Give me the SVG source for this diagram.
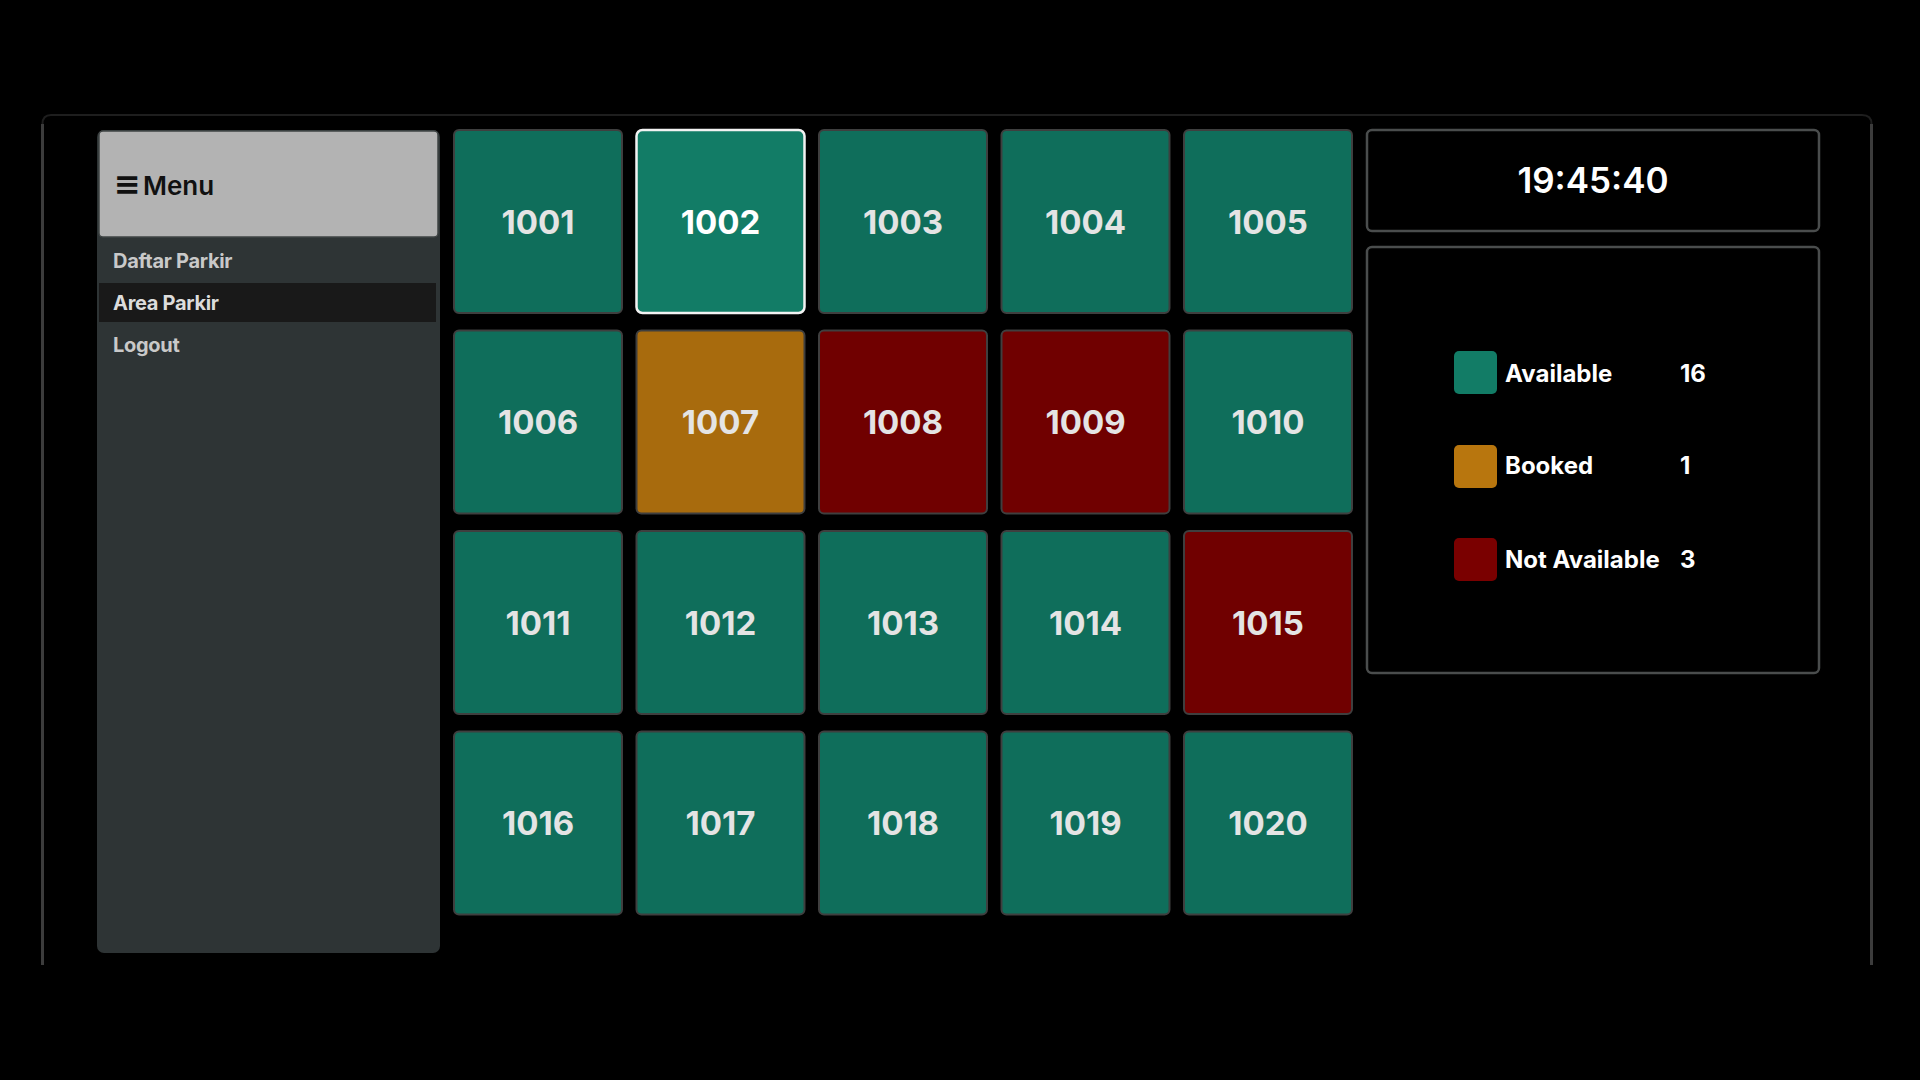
<svg xmlns="http://www.w3.org/2000/svg" width="1920" height="1080" viewBox="0 0 1920 1080">
<style>
.tile{stroke:#3f3f3f;stroke-width:2}
.av{fill:#0f6e5b}
.bk{fill:#a86b0d}
.na{fill:#700000}
.sel{fill:#127c66;stroke:#f2f2f2;stroke-width:2.5}
.tt{font-family:Inter,"Liberation Sans",sans-serif;font-size:33px;font-weight:700;fill:#e4e4e4;text-anchor:middle}
.side{font-family:Inter,"Liberation Sans",sans-serif;font-size:20px;font-weight:700;fill:#c9c9c9;letter-spacing:-0.3px}
.lg{font-family:Inter,"Liberation Sans",sans-serif;font-size:24px;font-weight:700;fill:#ffffff}
.box{fill:#000;stroke:#4a4d4d;stroke-width:2.5}
</style>
<rect x="0" y="0" width="1920" height="1080" fill="#000"/>
<g id="frame">
<path d="M42.5 965 V124 Q42.5 115 51 115 H1862 Q1871.5 115 1871.5 124 V965" fill="#000" stroke="#1e1e1e" stroke-width="2"/>
<path d="M42.5 965 V124" stroke="#3c3c3c" stroke-width="3" fill="none"/>
<path d="M1871.5 965 V124" stroke="#3c3c3c" stroke-width="3" fill="none"/>
</g>
<g id="sidebar">
<rect x="97" y="130" width="343" height="823" rx="7" fill="#2e3435"/>
<rect x="99" y="131" width="339" height="106" rx="4" fill="#b3b3b3" stroke="#3f4444" stroke-width="1.5"/>
<text x="114" y="195" font-family="Inter,'DejaVu Sans',sans-serif" font-size="32" font-weight="700" fill="#111">≡</text>
<text x="143" y="195" font-family="Inter,'Liberation Sans',sans-serif" font-size="26" font-weight="600" fill="#111">Menu</text>
<text class="side" x="113" y="268">Daftar Parkir</text>
<rect x="99" y="283" width="337" height="39" fill="#191919"/>
<text class="side" x="113" y="310" style="fill:#dcdcdc">Area Parkir</text>
<text class="side" x="113" y="352">Logout</text>
</g>
<g id="slots">
<g id="slot-1001"><rect class="tile av" x="454" y="130" width="168" height="183" rx="5"/><text class="tt" x="538" y="233.5">1001</text></g>
<g id="slot-1002"><rect class="sel" x="636.5" y="130" width="168" height="183" rx="6"/><text class="tt" x="720.5" y="233.5" style="fill:#fff">1002</text></g>
<g id="slot-1003"><rect class="tile av" x="819" y="130" width="168" height="183" rx="5"/><text class="tt" x="903" y="233.5">1003</text></g>
<g id="slot-1004"><rect class="tile av" x="1001.5" y="130" width="168" height="183" rx="5"/><text class="tt" x="1085.5" y="233.5">1004</text></g>
<g id="slot-1005"><rect class="tile av" x="1184" y="130" width="168" height="183" rx="5"/><text class="tt" x="1268" y="233.5">1005</text></g>

<g id="slot-1006"><rect class="tile av" x="454" y="330.5" width="168" height="183" rx="5"/><text class="tt" x="538" y="434">1006</text></g>
<g id="slot-1007"><rect class="tile bk" x="636.5" y="330.5" width="168" height="183" rx="5"/><text class="tt" x="720.5" y="434">1007</text></g>
<g id="slot-1008"><rect class="tile na" x="819" y="330.5" width="168" height="183" rx="5"/><text class="tt" x="903" y="434">1008</text></g>
<g id="slot-1009"><rect class="tile na" x="1001.5" y="330.5" width="168" height="183" rx="5"/><text class="tt" x="1085.5" y="434">1009</text></g>
<g id="slot-1010"><rect class="tile av" x="1184" y="330.5" width="168" height="183" rx="5"/><text class="tt" x="1268" y="434">1010</text></g>

<g id="slot-1011"><rect class="tile av" x="454" y="531" width="168" height="183" rx="5"/><text class="tt" x="538" y="634.5">1011</text></g>
<g id="slot-1012"><rect class="tile av" x="636.5" y="531" width="168" height="183" rx="5"/><text class="tt" x="720.5" y="634.5">1012</text></g>
<g id="slot-1013"><rect class="tile av" x="819" y="531" width="168" height="183" rx="5"/><text class="tt" x="903" y="634.5">1013</text></g>
<g id="slot-1014"><rect class="tile av" x="1001.5" y="531" width="168" height="183" rx="5"/><text class="tt" x="1085.5" y="634.5">1014</text></g>
<g id="slot-1015"><rect class="tile na" x="1184" y="531" width="168" height="183" rx="5"/><text class="tt" x="1268" y="634.5">1015</text></g>

<g id="slot-1016"><rect class="tile av" x="454" y="731.5" width="168" height="183" rx="5"/><text class="tt" x="538" y="835">1016</text></g>
<g id="slot-1017"><rect class="tile av" x="636.5" y="731.5" width="168" height="183" rx="5"/><text class="tt" x="720.5" y="835">1017</text></g>
<g id="slot-1018"><rect class="tile av" x="819" y="731.5" width="168" height="183" rx="5"/><text class="tt" x="903" y="835">1018</text></g>
<g id="slot-1019"><rect class="tile av" x="1001.5" y="731.5" width="168" height="183" rx="5"/><text class="tt" x="1085.5" y="835">1019</text></g>
<g id="slot-1020"><rect class="tile av" x="1184" y="731.5" width="168" height="183" rx="5"/><text class="tt" x="1268" y="835">1020</text></g>
</g>
<g id="clock">
<rect class="box" x="1367" y="130" width="452" height="101" rx="5"/>
<text x="1593" y="193" font-family="Inter,'Liberation Sans',sans-serif" font-size="35" font-weight="600" fill="#fff" text-anchor="middle">19:45:40</text>
</g>
<g id="legend">
<rect class="box" x="1367" y="247" width="452" height="426" rx="5"/>
<g id="legend-available"><rect x="1454" y="351" width="43" height="43" rx="5" fill="#127c66"/><text class="lg" x="1505" y="382">Available</text><text class="lg" x="1680" y="382">16</text></g>
<g id="legend-booked"><rect x="1454" y="445" width="43" height="43" rx="5" fill="#b8760e"/><text class="lg" x="1505" y="474">Booked</text><text class="lg" x="1680" y="474">1</text></g>
<g id="legend-notavailable"><rect x="1454" y="538" width="43" height="43" rx="5" fill="#7a0000"/><text class="lg" x="1505" y="568">Not Available</text><text class="lg" x="1680" y="568">3</text></g>
</g>
<g id="connectors"/>
</svg>
